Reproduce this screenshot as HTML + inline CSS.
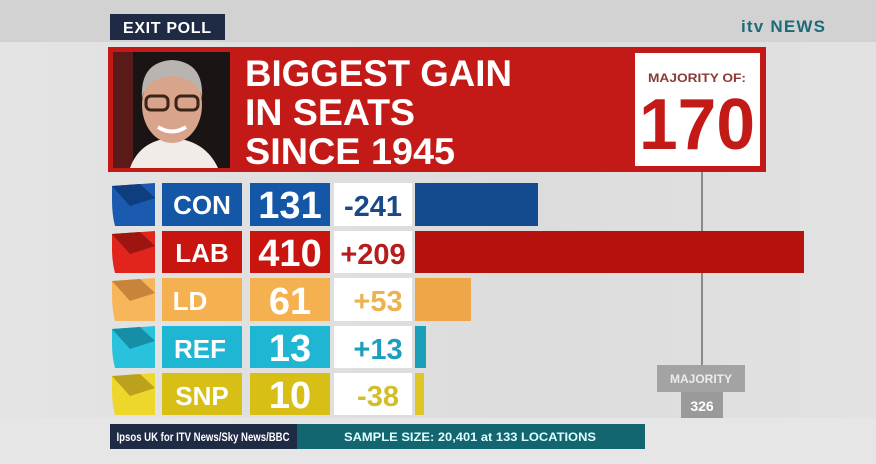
<!DOCTYPE html>
<html><head><meta charset="utf-8"><style>
html,body{margin:0;padding:0;width:876px;height:464px;overflow:hidden;background:#dedede}
svg{display:block}
text{font-family:"Liberation Sans",sans-serif;font-weight:bold}
</style></head><body>
<svg width="876" height="464" viewBox="0 0 876 464" xmlns="http://www.w3.org/2000/svg">
<defs>
<linearGradient id="bg" x1="0" y1="0" x2="1" y2="0">
<stop offset="0" stop-color="#e4e4e4"/><stop offset="0.6" stop-color="#dcdcdc"/><stop offset="1" stop-color="#e2e2e2"/></linearGradient>
</defs>
<rect width="876" height="464" fill="url(#bg)"/>
<rect width="876" height="42" fill="#d2d2d2"/>
<rect x="0" y="418" width="876" height="46" fill="#e6e6e6"/>
<!-- exit poll -->
<rect x="110" y="14" width="115" height="26" fill="#1f2a44"/>
<text x="167" y="33" fill="#fff" font-size="16" text-anchor="middle" textLength="88">EXIT POLL</text>
<text x="783" y="32" fill="#1e6b78" font-size="17" text-anchor="middle" textLength="84">itv NEWS</text>
<!-- banner -->
<rect x="108" y="47" width="658" height="125" fill="#c41a17"/>
<rect x="113" y="52" width="117" height="116" fill="#1a1414"/>
<rect x="113" y="52" width="20" height="116" fill="#5a1a1a"/>
<path d="M130 168 Q140 140 172 138 Q205 140 218 168 Z" fill="#f1ece8"/>
<ellipse cx="172" cy="105" rx="30" ry="38" fill="#d9a48c"/>
<path d="M142 98 Q140 62 172 60 Q204 62 202 98 Q198 78 172 76 Q146 78 142 98 Z" fill="#b8b4b0"/>
<rect x="146" y="96" width="22" height="14" rx="5" fill="none" stroke="#3a2418" stroke-width="3"/>
<rect x="176" y="96" width="22" height="14" rx="5" fill="none" stroke="#3a2418" stroke-width="3"/>
<path d="M158 127 Q172 136 186 127" stroke="#fff" stroke-width="4" fill="none"/>
<text x="245" y="86" fill="#fff" font-size="37" textLength="267" lengthAdjust="spacingAndGlyphs">BIGGEST GAIN</text>
<text x="245" y="125" fill="#fff" font-size="37" textLength="170" lengthAdjust="spacingAndGlyphs">IN SEATS</text>
<text x="245" y="164" fill="#fff" font-size="37" textLength="210" lengthAdjust="spacingAndGlyphs">SINCE 1945</text>
<rect x="635" y="53" width="125" height="113" fill="#fff"/>
<text x="697" y="82" fill="#8a3a36" font-size="12" text-anchor="middle" textLength="98" lengthAdjust="spacingAndGlyphs">MAJORITY OF:</text>
<text x="697" y="149" fill="#c41a17" font-size="72" text-anchor="middle" textLength="116" lengthAdjust="spacingAndGlyphs">170</text>
<!-- majority line -->
<rect x="701" y="172" width="2" height="194" fill="#8a8a8a"/>
<rect x="657" y="365" width="88" height="27" fill="#a3a3a3"/>
<text x="701" y="383" fill="#ececec" font-size="12" text-anchor="middle" font-weight="normal">MAJORITY</text>
<rect x="681" y="392" width="42" height="26" fill="#9a9a9a"/>
<text x="702" y="411" fill="#fff" font-size="14" text-anchor="middle">326</text>
<!-- rows -->
<g>
<path d="M112 186 L155 183 L155 226 L115 226 Q112 215 112 200 Z" fill="#1a5bb0"/>
<path d="M112 186 L140 184 L155 198 L130 206 Z" fill="#0e3d80"/>
<rect x="162" y="183" width="80" height="43" fill="#1457a6"/>
<text x="202" y="214" fill="#fff" font-size="26" text-anchor="middle">CON</text>
<rect x="250" y="183" width="80" height="43" fill="#1457a6"/>
<text x="290" y="218" fill="#fff" font-size="38" text-anchor="middle" font-weight="normal">131</text>
<rect x="334" y="183" width="78" height="43" fill="#fff"/>
<text x="373" y="216" fill="#1a4a86" font-size="29" text-anchor="middle">-241</text>
<rect x="415" y="183" width="123" height="43" fill="#144a8e"/>
</g>
<g>
<path d="M112 234 L155 231 L155 273 L115 273 Q112 262 112 248 Z" fill="#e1241c"/>
<path d="M112 234 L140 232 L155 246 L130 254 Z" fill="#9e1410"/>
<rect x="162" y="231" width="80" height="42" fill="#c8150f"/>
<text x="202" y="262" fill="#fff" font-size="26" text-anchor="middle">LAB</text>
<rect x="250" y="231" width="80" height="42" fill="#c8150f"/>
<text x="290" y="266" fill="#fff" font-size="38" text-anchor="middle" font-weight="normal">410</text>
<rect x="334" y="231" width="78" height="42" fill="#fff"/>
<text x="373" y="264" fill="#b71c1c" font-size="29" text-anchor="middle">+209</text>
<rect x="415" y="231" width="389" height="42" fill="#b5120e"/>
</g>
<g>
<path d="M112 281 L155 278 L155 321 L115 321 Q112 310 112 295 Z" fill="#f7b65a"/>
<path d="M112 281 L140 279 L155 293 L130 301 Z" fill="#c8843a"/>
<rect x="162" y="278" width="80" height="43" fill="#f5b04f"/>
<text x="190" y="310" fill="#fff" font-size="26" text-anchor="middle">LD</text>
<rect x="250" y="278" width="80" height="43" fill="#f5b04f"/>
<text x="290" y="314" fill="#fff" font-size="38" text-anchor="middle" font-weight="normal">61</text>
<rect x="334" y="278" width="78" height="43" fill="#fff"/>
<text x="378" y="311" fill="#ebb350" font-size="29" text-anchor="middle">+53</text>
<rect x="415" y="278" width="56" height="43" fill="#eea649"/>
</g>
<g>
<path d="M112 329 L155 326 L155 368 L115 368 Q112 357 112 343 Z" fill="#28c2dc"/>
<path d="M112 329 L140 327 L155 341 L130 349 Z" fill="#168ea6"/>
<rect x="162" y="326" width="80" height="42" fill="#1fb6d3"/>
<text x="200" y="358" fill="#fff" font-size="26" text-anchor="middle">REF</text>
<rect x="250" y="326" width="80" height="42" fill="#1fb6d3"/>
<text x="290" y="361" fill="#fff" font-size="38" text-anchor="middle" font-weight="normal">13</text>
<rect x="334" y="326" width="78" height="42" fill="#fff"/>
<text x="378" y="359" fill="#1c9fbc" font-size="29" text-anchor="middle">+13</text>
<rect x="415" y="326" width="11" height="42" fill="#1a9fba"/>
</g>
<g>
<path d="M112 376 L155 373 L155 415 L115 415 Q112 404 112 390 Z" fill="#ecd72a"/>
<path d="M112 376 L140 374 L155 388 L130 396 Z" fill="#bca21c"/>
<rect x="162" y="373" width="80" height="42" fill="#d8bf16"/>
<text x="202" y="405" fill="#fff" font-size="26" text-anchor="middle">SNP</text>
<rect x="250" y="373" width="80" height="42" fill="#d8bf16"/>
<text x="290" y="408" fill="#fff" font-size="38" text-anchor="middle" font-weight="normal">10</text>
<rect x="334" y="373" width="78" height="42" fill="#fff"/>
<text x="378" y="406" fill="#d2bd2a" font-size="29" text-anchor="middle">-38</text>
<rect x="415" y="373" width="9" height="42" fill="#e0c624"/>
</g>
<!-- footer -->
<rect x="110" y="424" width="535" height="25" fill="#136670"/>
<rect x="110" y="424" width="187" height="25" fill="#1f2a44"/>
<text x="203" y="441" fill="#fff" font-size="12" text-anchor="middle" font-weight="normal" textLength="173" lengthAdjust="spacingAndGlyphs">Ipsos UK for ITV News/Sky News/BBC</text>
<text x="470" y="441" fill="#dff" font-size="12" text-anchor="middle" font-weight="normal" textLength="252" lengthAdjust="spacingAndGlyphs">SAMPLE SIZE: 20,401 at 133 LOCATIONS</text>
</svg>
</body></html>
